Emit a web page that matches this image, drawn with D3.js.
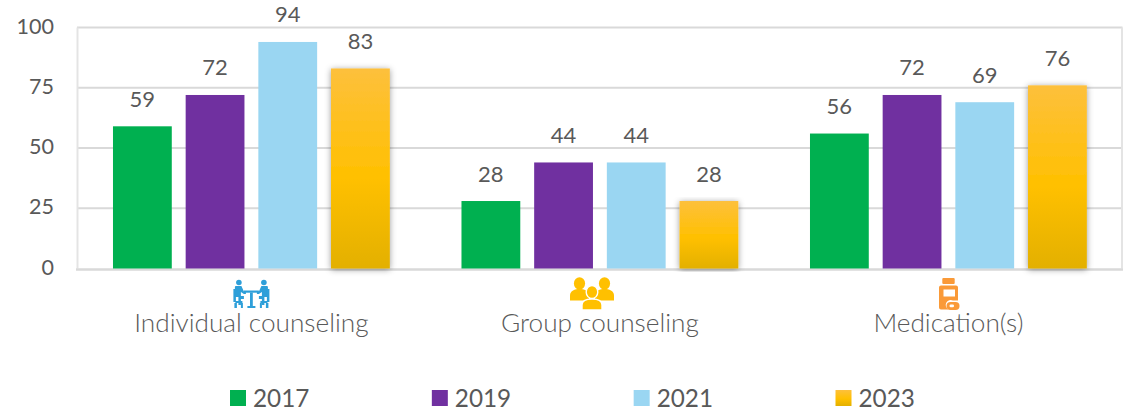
<!DOCTYPE html>
<html>
<head>
<meta charset="utf-8">
<script src="https://d3js.org/d3.v7.min.js"></script>
<style>
  html, body { margin: 0; padding: 0; background: #fff; }
  svg { display: block; }
  text { font-family: Lato, "Open Sans", sans-serif; fill: #595959; }
</style>
</head>
<body>
<div id="chart"></div>
<script>
const categories = ["Individual counseling", "Group counseling", "Medication(s)"];
const years = ["2017", "2019", "2021", "2023"];
const values2017 = [59, 28, 56];
const values2019 = [72, 44, 72];
const values2021 = [94, 44, 69];
const values2023 = [83, 28, 76];
const yTicks = [0, 25, 50, 75, 100];
const seriesValues = [values2017, values2019, values2021, values2023];
const colors = ["#00b050", "#7030a0", "#9ad6f2", "url(#gold)"];

const svg = d3.select("#chart").append("svg").attr("width", 1135).attr("height", 411);

// gradient + shadow for the 2023 bars
const defs = svg.append("defs");
const grad = defs.append("linearGradient").attr("id", "gold")
  .attr("x1", 0).attr("y1", 0).attr("x2", 0).attr("y2", 1);
grad.append("stop").attr("offset", "0%").attr("stop-color", "#fdc03c");
grad.append("stop").attr("offset", "55%").attr("stop-color", "#ffc000");
grad.append("stop").attr("offset", "100%").attr("stop-color", "#e3b000");
const shadow = defs.append("filter").attr("id", "shadow")
  .attr("x", "-20%").attr("y", "-5%").attr("width", "140%").attr("height", "110%");
shadow.append("feDropShadow").attr("dx", 0).attr("dy", 1).attr("stdDeviation", 3)
  .attr("flood-color", "#000").attr("flood-opacity", 0.4);

const x0 = d3.scaleBand().domain(categories).range([77.15, 1122.65]);
const x1 = d3.scaleBand().domain(years).range([0, x0.bandwidth()]).paddingInner(0.191).paddingOuter(0.493);
const y = d3.scaleLinear().domain([0, 100]).range([268.5, 27.5]);

// gridlines
svg.append("g").selectAll("line").data(yTicks.filter(d => d > 0)).enter().append("line")
  .attr("x1", 77).attr("x2", 1122.5)
  .attr("y1", d => y(d)).attr("y2", d => y(d))
  .attr("stroke", "#d9d9d9").attr("stroke-width", 2);
svg.append("line").attr("x1", 77.5).attr("x2", 77.5).attr("y1", y(100)).attr("y2", y(0))
  .attr("stroke", "#e4e4e4").attr("stroke-width", 2);
svg.append("line").attr("x1", 1122).attr("x2", 1122).attr("y1", y(100)).attr("y2", y(0))
  .attr("stroke", "#e4e4e4").attr("stroke-width", 2);
svg.append("line").attr("x1", 76).attr("x2", 1123).attr("y1", y(0) + 1).attr("y2", y(0) + 1)
  .attr("stroke", "#d9d9d9").attr("stroke-width", 2.5);

// y axis labels
const yAxis = d3.axisLeft(y).tickValues(yTicks).tickSize(0).tickPadding(0);
const yG = svg.append("g").attr("transform", "translate(54,0)").call(yAxis);
yG.select(".domain").remove();
yG.selectAll("text").style("font-size", "21.5px").attr("dy", "0.26em");

// bars
years.forEach((year, s) => {
  const g = svg.append("g");
  g.selectAll("rect").data(seriesValues[s]).enter().append("rect")
    .attr("x", (d, i) => x0(categories[i]) + x1(year))
    .attr("y", d => y(d))
    .attr("width", x1.bandwidth())
    .attr("height", d => y(0) - y(d))
    .attr("fill", colors[s])
    .attr("filter", s === 3 ? "url(#shadow)" : null);
  g.selectAll("text").data(seriesValues[s]).enter().append("text")
    .attr("x", (d, i) => x0(categories[i]) + x1(year) + x1.bandwidth() / 2)
    .attr("y", d => y(d) - 19.5)
    .attr("text-anchor", "middle")
    .style("font-size", "22px")
    .text(d => d);
});

// category labels
svg.append("g").selectAll("text").data(categories).enter().append("text")
  .attr("x", d => x0(d) + x0.bandwidth() / 2)
  .attr("y", 332)
  .attr("text-anchor", "middle")
  .style("font-size", "26.2px")
  .style("font-weight", 300)
  .text(d => d);

// category icons
const iconCenter = d => x0(d) + x0.bandwidth() / 2;

const iconA = svg.append("g").attr("transform", `translate(${iconCenter(categories[0])},293.5)`).attr("fill", "#2e9fd9");
[-1, 1].forEach(side => {
  const p = iconA.append("g").attr("transform", `scale(${side},1)`);
  p.append("circle").attr("cx", 12.5).attr("cy", -11).attr("r", 2.8);
  p.append("path").attr("d", "M10,-7.5 h5.5 a1,1 0 0 1 1,1 v10 h-3.5 v8 h-2.5 v-6 h-3 v-3 h3 v-4 l-3,2 h-2 v-2.5 h2z");
  p.append("path").attr("d", "M15.5,-4.5 h2.5 v13 h-2.5 z M9,7.5 h7 v2 h-7z M8.5,9.5 h2 v5 h-2z M14.5,9.5 h2.5 v5 h-2.5z");
});
iconA.append("rect").attr("x", -7.5).attr("y", -3).attr("width", 15).attr("height", 2.2);
iconA.append("rect").attr("x", -1.4).attr("y", -1).attr("width", 2.8).attr("height", 14);
iconA.append("rect").attr("x", -4).attr("y", 12.5).attr("width", 8).attr("height", 2);

const iconB = svg.append("g").attr("transform", "translate(592,293.5)").attr("fill", "#ffc000");
[-12.5, 12.5].forEach(cx => {
  iconB.append("ellipse").attr("cx", cx).attr("cy", -10).attr("rx", 5.6).attr("ry", 6.2);
  iconB.append("path").attr("d", `M${cx - 9.5},7 v-5 c0,-5 5,-6.5 9.5,-6.5 c4.5,0 9.5,1.5 9.5,6.5 v5 z`);
});
iconB.append("ellipse").attr("cx", 0).attr("cy", -1.5).attr("rx", 5.8).attr("ry", 6.5)
  .attr("stroke", "#fff").attr("stroke-width", 1.4);
iconB.append("path").attr("d", "M-10,16.5 v-5 c0,-4.5 5,-6 10,-6 c5,0 10,1.5 10,6 v5 z")
  .attr("stroke", "#fff").attr("stroke-width", 1.4);

const iconC = svg.append("g").attr("transform", "translate(948.5,294)").attr("fill", "#fa9a38");
iconC.append("rect").attr("x", -6.2).attr("y", -16).attr("width", 12.4).attr("height", 6).attr("rx", 1);
iconC.append("path").attr("d", "M-7.5,-8.5 h15 a2,2 0 0 1 2,2 v13 h-5 a5,5 0 0 0 -4.5,9 h-7.5 a2,2 0 0 1 -2,-2 v-20 a2,2 0 0 1 2,-2 z");
iconC.append("rect").attr("x", -5).attr("y", -4.5).attr("width", 11.5).attr("height", 7).attr("fill", "#fff");
iconC.append("rect").attr("x", -2).attr("y", 8).attr("width", 13).attr("height", 8).attr("rx", 4);
iconC.append("rect").attr("x", 1).attr("y", 10.5).attr("width", 4.5).attr("height", 2.8).attr("rx", 1.3).attr("fill", "#fff");

// legend
const legendX = d3.scalePoint().domain(years).range([230, 835.5]);
const legend = svg.append("g").selectAll("g").data(years).enter().append("g")
  .attr("transform", d => `translate(${legendX(d)},390)`);
legend.append("rect").attr("width", 16).attr("height", 16)
  .attr("fill", (d, i) => colors[i]);
legend.append("text").attr("x", 23).attr("y", 16.5)
  .style("font-size", "24.3px")
  .text(d => d);
</script>
</body>
</html>
